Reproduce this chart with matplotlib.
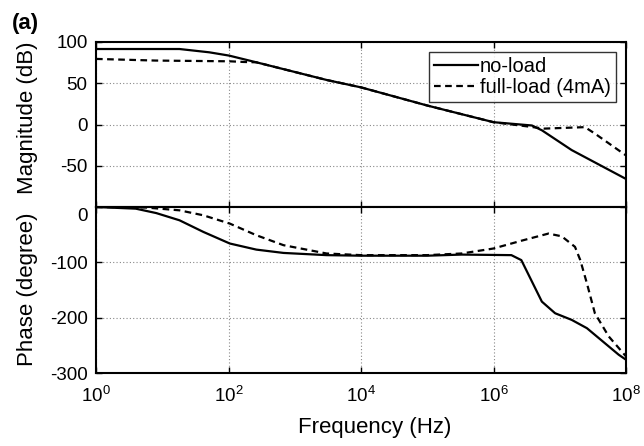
import numpy as np
import matplotlib.pyplot as plt
import matplotlib.transforms as mtransforms

plt.rcParams['font.family'] = 'Liberation Sans'
plt.rcParams['mathtext.fontset'] = 'custom'
plt.rcParams['mathtext.rm'] = 'Liberation Sans'
plt.rcParams['mathtext.it'] = 'Liberation Sans:italic'
plt.rcParams['axes.unicode_minus'] = False

# frequencies as log10(Hz)
# magnitude (dB)
lf_mag_nl = [0, 1.26, 1.71, 2.01, 2.42, 3.48, 4.0, 5.0, 6.0, 6.58, 6.73, 7.18, 8.0]
mag_nl = [91.5, 91.5, 87.5, 83.5, 75.4, 54, 45, 23, 2.8, -1.2, -7, -31, -66]
lf_mag_fl = [0, 0.9, 2.02, 2.23, 2.42, 3.48, 4.0, 5.0, 6.0, 6.58, 6.76, 7.38, 7.53, 8.0]
mag_fl = [79.5, 77.5, 76.6, 75.8, 75.4, 54, 45, 23, 2.8, -3, -5, -3.2, -11, -37.5]

# phase (degree)
lf_ph_nl = [0, 0.6, 0.91, 1.26, 1.62, 2.02, 2.42, 2.83, 3.48, 4.0, 5.0, 5.52,
            6.27, 6.42, 6.73, 6.93, 7.18, 7.41, 7.68, 7.89, 8.0]
ph_nl = [0, -3, -11, -24, -45, -66, -77, -83, -87, -88, -88, -86,
         -87, -96, -171, -192, -204, -219, -246, -267, -276]
lf_ph_fl = [0, 0.76, 1.26, 1.62, 2.02, 2.42, 2.83, 3.48, 4.0, 5.0, 5.52, 6.0,
            6.42, 6.83, 7.03, 7.23, 7.31, 7.41, 7.53, 7.74, 8.0]
ph_fl = [0, -1, -6, -15, -30, -51, -69, -84, -87, -87, -84, -75,
         -61, -48, -53, -72, -96, -138, -192, -234, -270]

fig = plt.figure(figsize=(6.44, 4.46), dpi=100)
ax1 = fig.add_axes([96/644, 1-207/446, 530/644, 165/446])
ax2 = fig.add_axes([96/644, 1-373/446, 530/644, 166/446])

ax1.plot(10**np.array(lf_mag_nl), mag_nl, 'k-', lw=1.6, label='no-load')
ax1.plot(10**np.array(lf_mag_fl), mag_fl, 'k--', lw=1.6, dashes=(3, 2),
         label='full-load (4mA)')
ax2.plot(10**np.array(lf_ph_nl), ph_nl, 'k-', lw=1.6)
ax2.plot(10**np.array(lf_ph_fl), ph_fl, 'k--', lw=1.6, dashes=(3, 2))

xt = [1, 1e2, 1e4, 1e6, 1e8]
for ax in (ax1, ax2):
    ax.set_xscale('log')
    ax.set_xlim(1, 1e8)
    ax.set_xticks(xt)
    ax.minorticks_off()
    ax.grid(True, color='#888888', ls=(0, (1, 2)), lw=0.8)
    ax.tick_params(direction='in', length=4, width=1, labelsize=13.5,
                   top=True, right=True, colors='black')
    ax.tick_params(axis='y', pad=6)
    ax.tick_params(axis='x', pad=9)
    for s in ax.spines.values():
        s.set_linewidth(1.5)

ax1.set_ylim(-100, 100)
ax1.set_yticks([-50, 0, 50, 100])
ax1.tick_params(labelbottom=False)

ax2.set_ylim(-300, 0)
ax2.set_yticks([-300, -200, -100, 0])
ax2.set_xticklabels([r'$10^{%d}$' % e for e in [0, 2, 4, 6, 8]])

# the "0" label of the phase axis sits a little below the top edge
lab0 = ax2.get_yticklabels()[-1]
lab0.set_transform(lab0.get_transform() +
                   mtransforms.ScaledTranslation(0, -8/100, fig.dpi_scale_trans))

fig.text(28/644, 1-118/446, 'Magnitude (dB)', rotation=90, fontsize=16,
         ha='center', va='center')
fig.text(28/644, 1-289/446, 'Phase (degree)', rotation=90, fontsize=16,
         ha='center', va='center')
fig.text(375/644, 1-428/446, 'Frequency (Hz)', fontsize=16,
         ha='center', va='center')
fig.text(12/644, 1-24/446, '(a)', fontsize=16, fontweight='bold',
         ha='left', va='center')

leg = ax1.legend(loc='upper right', fontsize=14.5, frameon=True, fancybox=False,
                 handlelength=2.2, handletextpad=0.1, borderpad=0.25,
                 labelspacing=0.1, borderaxespad=0.5)
leg.get_frame().set_edgecolor('black')
leg.get_frame().set_linewidth(1.0)

fig.savefig('out.png', dpi=100)
